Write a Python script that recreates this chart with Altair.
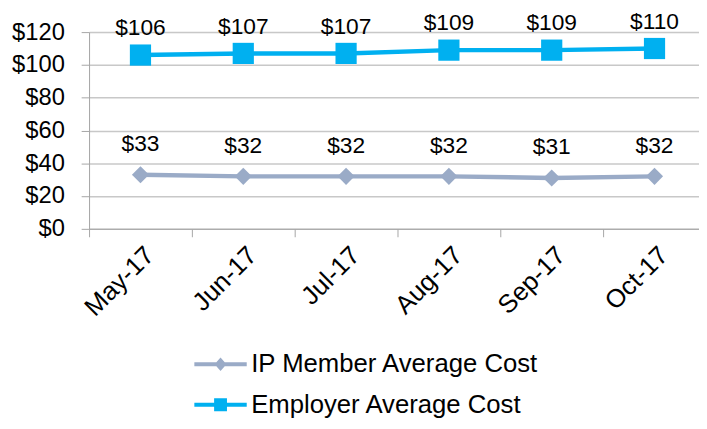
import altair as alt
import pandas as pd

months = ["May-17", "Jun-17", "Jul-17", "Aug-17", "Sep-17", "Oct-17"]
series_names = ["IP Member Average Cost", "Employer Average Cost"]
ip_values = [33, 32, 32, 32, 31, 32]
employer_values = [106, 107, 107, 109, 109, 110]
series_colors = ["#9AABC7", "#00B0F0"]
series_shapes = ["diamond", "square"]
series_sizes = [300, 460]
label_dy = [-24, -20]
y_ticks = [0, 20, 40, 60, 80, 100, 120]

FONT = "Liberation Sans"

legend_paths = [
    "M-4.4,-0.33H4.4V0.33H-4.4Z M0,-1.15L1,0L0,1.15L-1,0Z",
    "M-4.4,-0.33H4.4V0.33H-4.4Z M-1.08,-1.08H1.08V1.08H-1.08Z",
]
legend_y = [323, 364]

x_enc = alt.X(
    "month:N",
    sort=months,
    scale=alt.Scale(type="band", paddingInner=0, paddingOuter=0, range=[0, 624]),
    axis=alt.Axis(
        title=None,
        labelAngle=-45,
        labelAlign="right",
        labelBaseline="top",
        labelFontSize=26,
        labelFont=FONT,
        labelColor="#000000",
        labelPadding=5,
        tickBand="extent",
        tickSize=8,
        tickColor="#A6A6A6",
        domainColor="#A6A6A6",
        grid=False,
        labelOverlap=False,
        labelLimit=0,
    ),
)
y_enc = alt.Y(
    "value:Q",
    scale=alt.Scale(domain=[0, 120], nice=False),
    axis=alt.Axis(
        title=None,
        values=y_ticks,
        format="$d",
        labelFontSize=24,
        labelFont=FONT,
        labelColor="#000000",
        labelPadding=17,
        tickSize=8,
        tickColor="#A6A6A6",
        domainColor="#A6A6A6",
        gridColor="#C8C8C8",
        gridWidth=1.5,
    ),
)

layers = []
all_values = [ip_values, employer_values]
for i, name in enumerate(series_names):
    df = pd.DataFrame({"month": months, "series": name, "value": all_values[i]})
    base = alt.Chart(df)
    line = base.mark_line(strokeWidth=4.5, color=series_colors[i]).encode(x=x_enc, y=y_enc)
    pts = base.mark_point(
        filled=True, opacity=1, shape=series_shapes[i], size=series_sizes[i]
    ).encode(
        x=x_enc,
        y=y_enc,
        color=alt.Color(
            "series:N",
            scale=alt.Scale(domain=[name], range=[series_colors[i]]),
            legend=alt.Legend(
                title=None,
                orient="none",
                direction="vertical",
                legendX=120,
                legendY=legend_y[i],
                padding=0,
                labelFontSize=26,
                labelFont=FONT,
                labelColor="#000000",
                labelOffset=18,
                labelLimit=0,
                symbolType=legend_paths[i],
                symbolSize=145,
                symbolStrokeWidth=0,
                symbolOpacity=1,
                symbolFillColor=series_colors[i],
            ),
        ),
    )
    txt = base.mark_text(
        font=FONT, fontSize=23, color="#000000", dy=label_dy[i], baseline="alphabetic"
    ).encode(x=x_enc, y=y_enc, text=alt.Text("value:Q", format="$d"))
    layers += [line, pts, txt]

chart = (
    alt.layer(*layers)
    .resolve_scale(color="independent")
    .properties(
        width=617,
        height=199,
        autosize=alt.AutoSizeParams(type="none"),
        padding={"left": 82, "top": 22, "right": 0, "bottom": 192},
    )
    .configure_view(stroke=None)
    .configure(background="#FFFFFF")
)

chart.save("out.html", embed_options={"renderer": "svg", "actions": False})
